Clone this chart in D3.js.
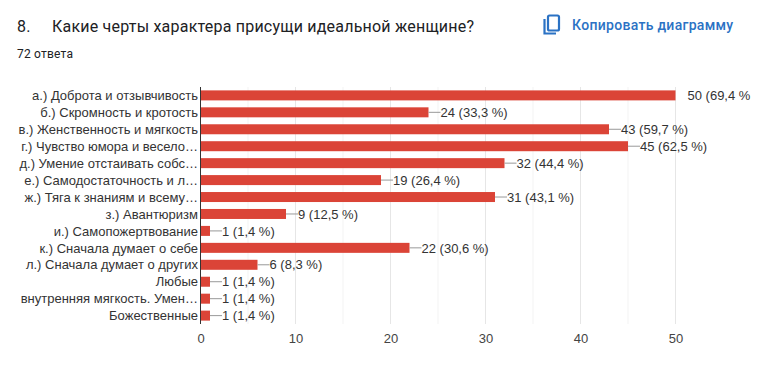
<!DOCTYPE html>
<html><head><meta charset="utf-8">
<script src="https://cdnjs.cloudflare.com/ajax/libs/d3/7.8.5/d3.min.js"></script>
<style>html,body{margin:0;padding:0;background:#fff}svg{display:block}text{font-family:Roboto,Arial,sans-serif}
.c text{font-family:"Liberation Sans",Arial,sans-serif}</style></head><body>
<script>
const categories=["а.) Доброта и отзывчивость","б.) Скромность и кротость","в.) Женственность и мягкость","г.) Чувство юмора и весело…","д.) Умение отстаивать собс…","е.) Самодостаточность и л…","ж.) Тяга к знаниям и всему…","з.) Авантюризм","и.) Самопожертвование","к.) Сначала думает о себе","л.) Сначала думает о других","Любые","внутренняя мягкость. Умен…","Божественные"];
const values=[50,24,43,45,32,19,31,9,1,22,6,1,1,1];
const labels=["50 (69,4 %","24 (33,3 %)","43 (59,7 %)","45 (62,5 %)","32 (44,4 %)","19 (26,4 %)","31 (43,1 %)","9 (12,5 %)","1 (1,4 %)","22 (30,6 %)","6 (8,3 %)","1 (1,4 %)","1 (1,4 %)","1 (1,4 %)"];
const majorTicks=[0,10,20,30,40,50];
const minorTicks=[5,15,25,35,45];
const svg=d3.select("body").append("svg").attr("width",759).attr("height",378);
const x=d3.scaleLinear().domain([0,50]).range([200.5,675.5]);
const y=d3.scaleBand().domain(categories).range([87,324]).paddingInner(0.41).paddingOuter(0.2);
svg.append("text").attr("x",17).attr("y",32).attr("font-size",16).attr("fill","#202124").style("letter-spacing","0.2px").text("8.");
svg.append("text").attr("x",52).attr("y",32).attr("font-size",16).attr("fill","#202124").style("letter-spacing","0.21px").text("Какие черты характера присущи идеальной женщине?");
svg.append("text").attr("x",17).attr("y",58).attr("font-size",12).attr("fill","#202124").style("letter-spacing","0.2px").text("72 ответа");
// copy button
const ic=svg.append("g").attr("fill","none").attr("stroke","#2b72c4").attr("stroke-width",2.2);
ic.append("rect").attr("x",548).attr("y",15.5).attr("width",11).attr("height",15).attr("rx",1.5);
ic.append("path").attr("d","M544.5 19V33.5H556");
svg.append("text").attr("x",572).attr("y",30).attr("font-size",14).attr("font-weight",500).attr("fill","#2b72c4").style("letter-spacing","0.3px").text("Копировать диаграмму");
const c=svg.append("g").attr("class","c");
c.selectAll(".minor").data(minorTicks).join("line").attr("x1",d=>x(d)).attr("x2",d=>x(d)).attr("y1",87).attr("y2",324).attr("stroke","#f3f3f3");
c.selectAll(".major").data(majorTicks.slice(1)).join("line").attr("x1",d=>x(d)).attr("x2",d=>x(d)).attr("y1",87).attr("y2",324).attr("stroke","#e6e6e6");
const axis=d3.axisBottom(x).tickValues(majorTicks).tickSize(0).tickPadding(0);
const ag=c.append("g").attr("transform","translate(0,333.5)").call(axis);
ag.select(".domain").remove();
ag.selectAll("text").attr("font-size",13).attr("fill","#444").attr("dy","0.71em").style("font-family",'"Liberation Sans",Arial,sans-serif');
c.selectAll(".bar").data(values).join("rect").attr("x",x(0)).attr("y",(d,i)=>y(categories[i])).attr("width",d=>x(d)-x(0)).attr("height",y.bandwidth()).attr("fill","#db4437");
c.selectAll(".lead").data(values).join("line").attr("x1",d=>x(d)).attr("x2",d=>x(d)+(d===50?0:12)).attr("y1",(d,i)=>y(categories[i])+y.bandwidth()/2).attr("y2",(d,i)=>y(categories[i])+y.bandwidth()/2).attr("stroke","#999");
c.selectAll(".val").data(values).join("text").attr("x",d=>x(d)+12).attr("y",(d,i)=>y(categories[i])+y.bandwidth()/2).attr("dy","0.36em").attr("font-size",13).attr("fill","#333").text((d,i)=>labels[i]);
c.selectAll(".cat").data(categories).join("text").attr("x",198).attr("y",d=>y(d)+y.bandwidth()/2).attr("dy","0.36em").attr("text-anchor","end").attr("font-size",13).attr("fill","#333").text(d=>d);
c.append("line").attr("x1",x(0)).attr("x2",x(0)).attr("y1",87).attr("y2",324).attr("stroke","#333");
</script></body></html>
